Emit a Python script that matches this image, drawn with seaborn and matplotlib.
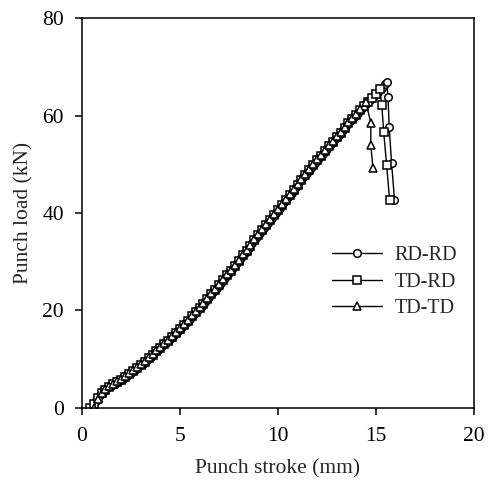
import matplotlib
matplotlib.use('Agg')
import matplotlib.pyplot as plt
import seaborn as sns

# Punch stroke (mm) and punch load (kN)
rd_rd_stroke = [0.5, 0.7, 0.9, 1.1, 1.3, 1.5, 1.7, 1.9, 2.1, 2.3, 2.5, 2.7, 2.9,
                3.1, 3.3, 3.5, 3.7, 3.9, 4.1, 4.3, 4.5, 4.7, 4.9, 5.1, 5.3, 5.5,
                5.7, 5.9, 6.1, 6.3, 6.5, 6.7, 6.9, 7.1, 7.3, 7.5, 7.7, 7.9, 8.1,
                8.3, 8.5, 8.7, 8.9, 9.1, 9.3, 9.5, 9.7, 9.9, 10.1, 10.3, 10.5,
                10.7, 10.9, 11.1, 11.3, 11.5, 11.7, 11.9, 12.1, 12.3, 12.5, 12.7,
                12.9, 13.1, 13.3, 13.5, 13.7, 13.9, 14.1, 14.3, 14.5, 14.7, 14.9,
                15.1, 15.3, 15.45, 15.55, 15.62, 15.68, 15.8, 15.95]
rd_rd_load = [0.0, 1.4, 2.6, 3.4, 4.0, 4.5, 5.0, 5.5, 6.0, 6.6, 7.2, 7.8, 8.5,
              9.1, 9.8, 10.5, 11.2, 11.9, 12.7, 13.4, 14.2, 15.0, 15.8, 16.6,
              17.4, 18.3, 19.2, 20.0, 20.9, 21.8, 22.8, 23.7, 24.7, 25.7, 26.7,
              27.7, 28.7, 29.7, 30.7, 31.8, 32.8, 33.8, 34.9, 35.9, 37.0, 38.0,
              39.0, 40.1, 41.1, 42.2, 43.2, 44.2, 45.3, 46.3, 47.3, 48.3, 49.3,
              50.3, 51.3, 52.2, 53.2, 54.1, 55.1, 56.0, 57.0, 57.9, 58.8, 59.7,
              60.6, 61.5, 62.4, 63.2, 64.0, 64.8, 65.6, 66.4, 67.0, 63.8, 57.6,
              50.3, 42.7]

td_rd_stroke = [0.4, 0.6, 0.8, 1.0, 1.2, 1.4, 1.6, 1.8, 2.0, 2.2, 2.4, 2.6, 2.8,
                3.0, 3.2, 3.4, 3.6, 3.8, 4.0, 4.2, 4.4, 4.6, 4.8, 5.0, 5.2, 5.4,
                5.6, 5.8, 6.0, 6.2, 6.4, 6.6, 6.8, 7.0, 7.2, 7.4, 7.6, 7.8, 8.0,
                8.2, 8.4, 8.6, 8.8, 9.0, 9.2, 9.4, 9.6, 9.8, 10.0, 10.2, 10.4,
                10.6, 10.8, 11.0, 11.2, 11.4, 11.6, 11.8, 12.0, 12.2, 12.4, 12.6,
                12.8, 13.0, 13.2, 13.4, 13.6, 13.8, 14.0, 14.2, 14.4, 14.6, 14.8,
                15.0, 15.2, 15.3, 15.4, 15.55, 15.7]
td_rd_load = [0.0, 0.7, 2.0, 3.0, 3.7, 4.3, 4.8, 5.3, 5.8, 6.3, 6.9, 7.5, 8.2,
              8.8, 9.5, 10.2, 10.9, 11.6, 12.3, 13.1, 13.8, 14.6, 15.4, 16.2,
              17.0, 17.9, 18.8, 19.6, 20.5, 21.4, 22.3, 23.3, 24.2, 25.2, 26.2,
              27.2, 28.2, 29.2, 30.2, 31.3, 32.3, 33.3, 34.4, 35.4, 36.5, 37.5,
              38.5, 39.6, 40.6, 41.7, 42.7, 43.7, 44.8, 45.8, 46.8, 47.8, 48.8,
              49.8, 50.8, 51.8, 52.7, 53.7, 54.6, 55.6, 56.5, 57.5, 58.4, 59.3,
              60.2, 61.1, 62.0, 62.8, 63.6, 64.4, 65.4, 62.2, 56.6, 49.8, 42.7]

td_td_stroke = [0.6, 0.8, 1.0, 1.2, 1.4, 1.6, 1.8, 2.0, 2.2, 2.4, 2.6, 2.8, 3.0,
                3.2, 3.4, 3.6, 3.8, 4.0, 4.2, 4.4, 4.6, 4.8, 5.0, 5.2, 5.4, 5.6,
                5.8, 6.0, 6.2, 6.4, 6.6, 6.8, 7.0, 7.2, 7.4, 7.6, 7.8, 8.0, 8.2,
                8.4, 8.6, 8.8, 9.0, 9.2, 9.4, 9.6, 9.8, 10.0, 10.2, 10.4, 10.6,
                10.8, 11.0, 11.2, 11.4, 11.6, 11.8, 12.0, 12.2, 12.4, 12.6, 12.8,
                13.0, 13.2, 13.4, 13.6, 13.8, 14.0, 14.2, 14.49, 14.74, 14.74,
                14.85]
td_td_load = [0.0, 1.8, 3.1, 3.9, 4.5, 5.0, 5.5, 6.0, 6.5, 7.1, 7.7, 8.4, 9.0,
              9.7, 10.4, 11.1, 11.8, 12.5, 13.3, 14.0, 14.8, 15.6, 16.4, 17.2,
              18.1, 19.0, 19.8, 20.7, 21.6, 22.5, 23.5, 24.4, 25.4, 26.4, 27.4,
              28.4, 29.4, 30.4, 31.5, 32.5, 33.5, 34.6, 35.6, 36.7, 37.7, 38.7,
              39.8, 40.8, 41.9, 42.9, 43.9, 45.0, 46.0, 47.0, 48.0, 49.0, 50.0,
              51.0, 52.0, 52.9, 53.9, 54.8, 55.8, 56.7, 57.7, 58.6, 59.5, 60.4,
              61.3, 62.8, 58.5, 54.0, 49.2]

series = [('RD-RD', rd_rd_stroke, rd_rd_load, 'o'),
          ('TD-RD', td_rd_stroke, td_rd_load, 's'),
          ('TD-TD', td_td_stroke, td_td_load, '^')]

sns.set_style('ticks')
plt.rcParams['font.family'] = ['Liberation Serif', 'DejaVu Serif']
plt.rcParams['axes.linewidth'] = 1.1

fig = plt.figure(figsize=(4.88, 4.92), dpi=100)
ax = fig.add_axes([0.168, 0.171, 0.803, 0.792])

for name, xs, ys, mk in series:
    sns.lineplot(x=xs, y=ys, ax=ax, color='black', linewidth=1.0,
                 marker=mk, markersize=5.4, markerfacecolor='white',
                 markeredgecolor='black', markeredgewidth=1.1,
                 estimator=None, sort=False, label=name)

ax.set_xlim(0, 20)
ax.set_ylim(0, 80)
ax.set_xticks([0, 5, 10, 15, 20])
ax.set_yticks([0, 20, 40, 60, 80])
ax.tick_params(direction='out', length=5, width=1.1, labelsize=15.5, colors='black')
ax.tick_params(axis='x', pad=9)
ax.tick_params(axis='y', pad=8)
for sp in ax.spines.values():
    sp.set_visible(True)
    sp.set_color('black')

ax.set_xlabel('Punch stroke (mm)', fontsize=15.5, labelpad=9)
ax.set_ylabel('Punch load (kN)', fontsize=15.5, labelpad=6)

leg = ax.legend(loc='center left', bbox_to_anchor=(0.638, 0.323), frameon=False,
                fontsize=14.5, handlelength=2.5, handletextpad=0.6,
                labelspacing=0.35, borderpad=0, borderaxespad=0)
for h in leg.legend_handles:
    h.set_markersize(5.5)

fig.savefig('out.png', dpi=100)
